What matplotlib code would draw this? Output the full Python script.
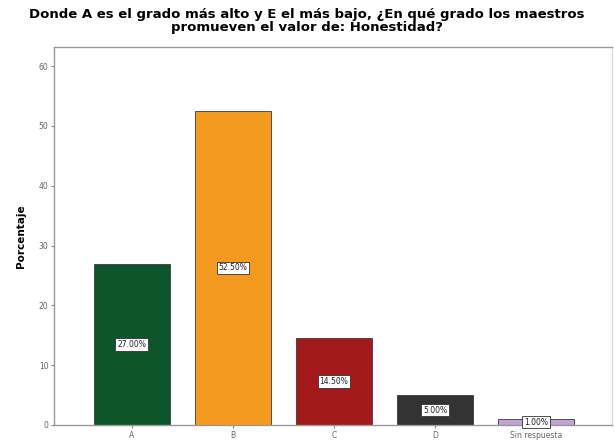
import matplotlib as mpl
mpl.use('Agg')
import matplotlib.pyplot as plt

categorias = ['A', 'B', 'C', 'D', 'Sin respuesta']
porcentajes = [27.00, 52.50, 14.50, 5.00, 1.00]
colores = ['#0d552b', '#f49b1f', '#a2181b', '#333333', '#c2a3d4']

fig = plt.figure(figsize=(6.14, 4.43), dpi=100)
ax = fig.add_axes([54/614, 1 - 425/443, (612-54)/614, (425-47)/443])

x = list(range(len(categorias)))
ax.bar(x, porcentajes, width=0.75, color=colores, edgecolor='#3a3a3a', linewidth=0.6)

for xi, v in zip(x, porcentajes):
    ax.text(xi, v/2, '%.2f%%' % v, ha='center', va='center', fontsize=5.5, color='#222222',
            bbox=dict(boxstyle='square,pad=0.25', facecolor='white', edgecolor='#333333', linewidth=0.6))

ax.set_xlim(-0.77, 4.75)
ax.set_ylim(0, 63.2)
ax.set_yticks([0, 10, 20, 30, 40, 50, 60])
ax.set_xticks(x)
ax.set_xticklabels(categorias)
ax.tick_params(axis='both', labelsize=5.5, colors='#888888', length=2.5, width=0.8,
               labelcolor='#666666', pad=1.5)
for s in ax.spines.values():
    s.set_color('#999999')
    s.set_linewidth(1.0)
ax.spines['right'].set_color('#dddddd')

ax.set_ylabel('Porcentaje', fontsize=7.5, fontweight='bold', labelpad=9)
fig.text(0.5, 1 - 21/443, 'Donde A es el grado más alto y E el más bajo, ¿En qué grado los maestros\npromueven el valor de: Honestidad?',
         ha='center', va='center', fontsize=9.5, fontweight='bold', linespacing=0.95)

fig.savefig('out.png', dpi=100)
plt.close()
